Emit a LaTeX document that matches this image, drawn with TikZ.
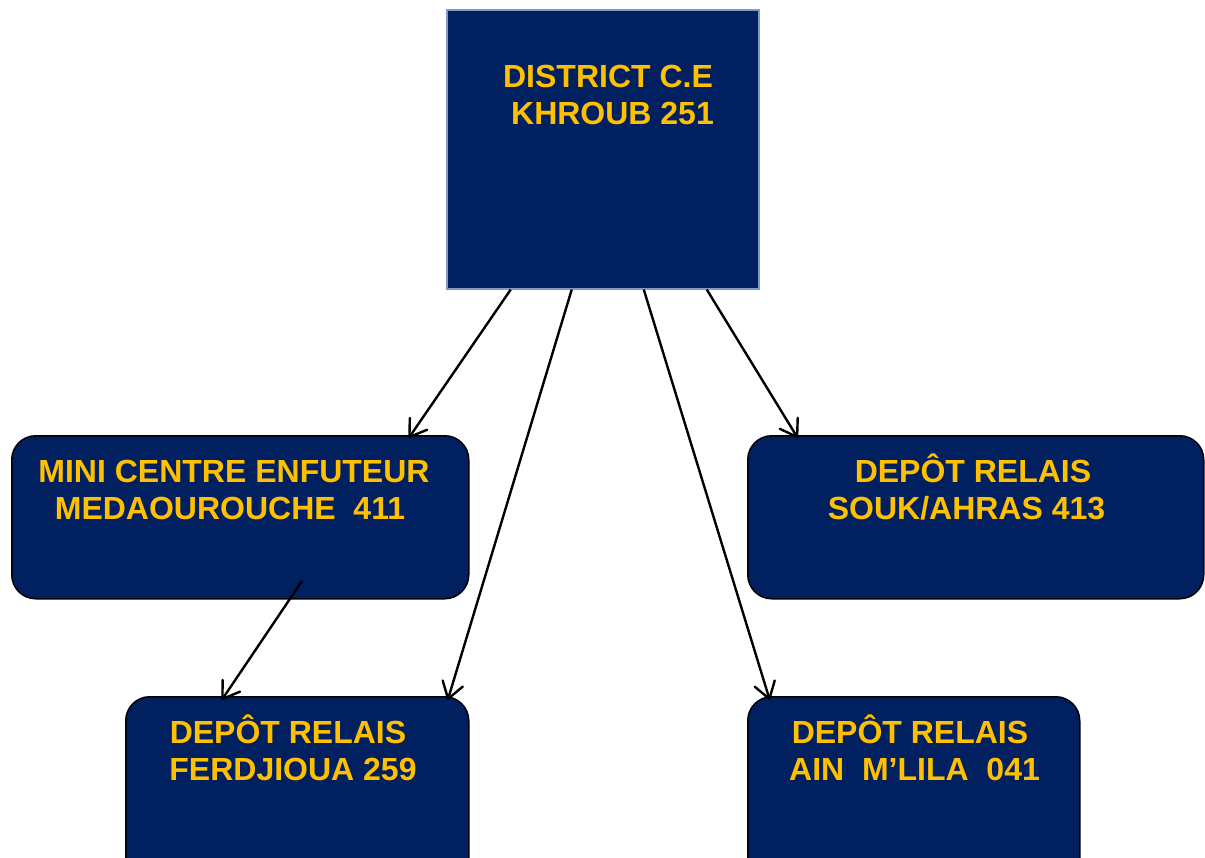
\documentclass[tikz,border=0pt]{standalone}
\usepackage{fontspec}
\setmainfont{Liberation Sans}
\usetikzlibrary{arrows.meta}
\definecolor{navy}{HTML}{002060}
\definecolor{gold}{HTML}{FFC000}
\definecolor{topedge}{HTML}{7F9CC4}
\begin{document}
\begin{tikzpicture}[x=1pt,y=-1pt,
  box/.style={draw=black,line width=1.5pt,fill=navy,rounded corners=24pt,anchor=north west,inner sep=0pt},
  topbox/.style={draw=topedge,line width=1.5pt,fill=navy,anchor=north west,inner sep=0pt},
  lbl/.style={text=gold,font=\fontsize{32}{32}\selectfont\bfseries,anchor=base,inner sep=0pt},
  arr/.style={draw=black,line width=2.4pt,-{Straight Barb[length=16pt,width=21pt,line width=2.4pt,round]}}]
\useasboundingbox (0,0) rectangle (1205,857);
% boxes
\node[topbox,minimum width=312pt,minimum height=279pt] (dist) at (446,9) {};
\node[box,minimum width=457pt,minimum height=163pt] (mini) at (11,435) {};
\node[box,minimum width=456pt,minimum height=163pt] (souk) at (747,435) {};
\node[box,minimum width=343pt,minimum height=200pt] (ferd) at (125,696) {};
\node[box,minimum width=332pt,minimum height=200pt] (ain) at (747,696) {};
% texts
\node[lbl] (t1a) at (608,87) {DISTRICT C.E};
\node[lbl] (t1b) at (612.5,124) {KHROUB 251};
\node[lbl] (t2a) at (234,482) {MINI CENTRE ENFUTEUR};
\node[lbl] (t2b) at (230,519) {MEDAOUROUCHE~~411};
\node[lbl] (t3a) at (973,482) {DEPÔT RELAIS};
\node[lbl] (t3b) at (966.5,519) {SOUK/AHRAS 413};
\node[lbl] (t4a) at (288,743) {DEPÔT RELAIS};
\node[lbl] (t4b) at (293,780) {FERDJIOUA 259};
\node[lbl] (t5a) at (910,743) {DEPÔT RELAIS};
\node[lbl] (t5b) at (914.5,780) {AIN~~M’LILA~~041};
% connectors
\coordinate (m0) at (302,581);
\draw[arr] ([xshift=-92pt]dist.south) -- ([xshift=168.5pt,yshift=-3pt]mini.north);
\draw[arr] ([xshift=-31pt]dist.south) -- ([xshift=150.5pt,yshift=-4pt]ferd.north);
\draw[arr] ([xshift=41pt]dist.south) -- ([xshift=-144pt,yshift=-4pt]ain.north);
\draw[arr] ([xshift=104pt]dist.south) -- ([xshift=-178pt,yshift=-3pt]souk.north);
\draw[arr] (m0) -- ([xshift=-75.5pt,yshift=-4pt]ferd.north);
\end{tikzpicture}
\end{document}
